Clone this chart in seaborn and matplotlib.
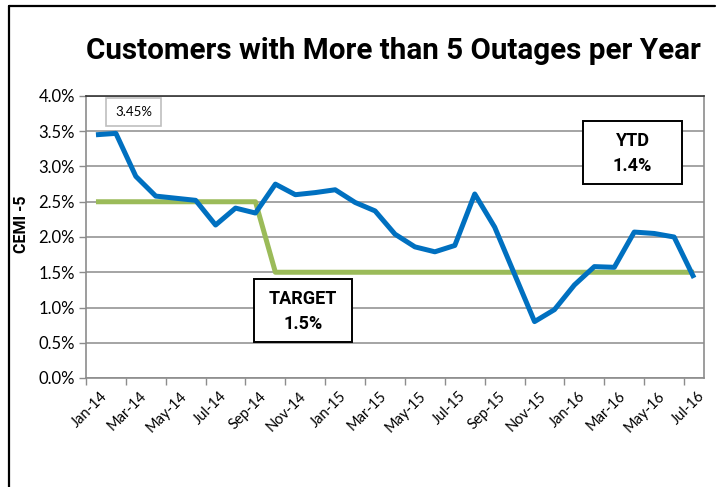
import matplotlib
matplotlib.use("Agg")
import matplotlib.pyplot as plt
import seaborn as sns
import pandas as pd
import numpy as np
from matplotlib.patches import Rectangle
from matplotlib.lines import Line2D

months = ["Jan-14", "Feb-14", "Mar-14", "Apr-14", "May-14", "Jun-14", "Jul-14", "Aug-14",
          "Sep-14", "Oct-14", "Nov-14", "Dec-14", "Jan-15", "Feb-15", "Mar-15", "Apr-15",
          "May-15", "Jun-15", "Jul-15", "Aug-15", "Sep-15", "Oct-15", "Nov-15", "Dec-15",
          "Jan-16", "Feb-16", "Mar-16", "Apr-16", "May-16", "Jun-16", "Jul-16"]
cemi5 = [3.45, 3.47, 2.86, 2.58, 2.55, 2.52, 2.17, 2.41, 2.34, 2.75, 2.60, 2.63, 2.67, 2.49,
         2.37, 2.04, 1.86, 1.79, 1.88, 2.61, 2.14, 1.47, 0.80, 0.97, 1.32, 1.58, 1.57, 2.07,
         2.05, 2.00, 1.42]
target = [2.5] * 9 + [1.5] * 22
tick_labels = months[::2]
y_ticks = [0.0, 0.5, 1.0, 1.5, 2.0, 2.5, 3.0, 3.5, 4.0]

sns.set_style("white")
plt.rcParams['font.family'] = ['Lato', 'DejaVu Sans']
for k in ["text.color", "axes.labelcolor", "xtick.color", "ytick.color"]:
    plt.rcParams[k] = "black"
BOLD = ['Roboto', 'DejaVu Sans']

df = pd.DataFrame({"idx": np.arange(len(months)), "month": months,
                   "CEMI-5": cemi5, "Target": target})

fig = plt.figure(figsize=(7.19, 4.87), dpi=100)
ax = fig.add_axes([86 / 719, 1 - 378 / 487, (704 - 86) / 719, (378 - 96) / 487])

sns.lineplot(data=df, x="idx", y="Target", ax=ax, color="#9BBB59", linewidth=3.6,
             solid_capstyle="butt", zorder=3)
sns.lineplot(data=df, x="idx", y="CEMI-5", ax=ax, color="#0070C0", linewidth=3.6,
             solid_capstyle="butt", zorder=4)

ax.set_xlim(-0.5, len(months) - 0.5)
ax.set_ylim(0, 4.0)
ax.set_yticks(y_ticks)
ax.set_yticklabels([f"{v:.1f}%" for v in y_ticks], fontsize=12)
ax.yaxis.grid(True, color="#8C8C8C", linewidth=1.1)
ax.set_axisbelow(True)

ax.set_xticks(np.arange(0, len(months), 2) - 0.5)
ax.set_xticklabels(tick_labels, rotation=45, ha="right", rotation_mode="anchor", fontsize=10.5)
ax.tick_params(axis="x", which="major", length=5, color="#8C8C8C", width=1, pad=3, direction="out")
ax.tick_params(axis="y", which="major", length=5, color="#8C8C8C", width=1, pad=3, direction="out")
ax.tick_params(bottom=True, left=True)
for lab in ax.get_xticklabels():
    lab.set_transform(lab.get_transform() + matplotlib.transforms.ScaledTranslation(10 / 72, 0, fig.dpi_scale_trans))

ax.set_xlabel("")
ax.set_ylabel("CEMI -5", fontsize=11.5, fontweight="bold", family=BOLD)
ax.yaxis.set_label_coords((29 - 86) / 618, (378 - 224) / 282)

for side in ["left", "bottom", "right"]:
    ax.spines[side].set_color("#8C8C8C")
    ax.spines[side].set_linewidth(1.2)
ax.spines["top"].set_color("#333333")
ax.spines["top"].set_linewidth(1.2)

fig.text(393 / 719, 1 - 51 / 487, "Customers with More than 5 Outages per Year",
         ha="center", va="center", fontsize=21.3, fontweight="bold", family=BOLD)

# outer chart frame (left and top only visible)
fig.add_artist(Line2D([8.5 / 719, 8.5 / 719], [0, 1 - 6 / 487], transform=fig.transFigure,
                      color="black", linewidth=1.6))
fig.add_artist(Line2D([8.5 / 719, 715 / 719], [1 - 6 / 487, 1 - 6 / 487], transform=fig.transFigure,
                      color="black", linewidth=1.6))

def box(x0, y0, x1, y1, ec, lw):
    fig.add_artist(Rectangle((x0 / 719, 1 - y1 / 487), (x1 - x0) / 719, (y1 - y0) / 487,
                             transform=fig.transFigure, facecolor="white", edgecolor=ec,
                             linewidth=lw, zorder=5))

box(106, 98, 161, 126, "#BFBFBF", 1.2)
fig.text(133.5 / 719, 1 - 112.5 / 487, f"{cemi5[0]:.2f}%", ha="center", va="center",
         fontsize=9.5, zorder=6)

box(254, 279, 352, 342, "black", 1.4)
fig.text(303 / 719, 1 - 299 / 487, "TARGET", ha="center", va="center", fontsize=13,
         fontweight="bold", family=BOLD, zorder=6)
fig.text(303 / 719, 1 - 324 / 487, "1.5%", ha="center", va="center", fontsize=13,
         fontweight="bold", family=BOLD, zorder=6)

box(583, 121, 682, 184, "black", 1.4)
fig.text(632.5 / 719, 1 - 141 / 487, "YTD", ha="center", va="center", fontsize=13,
         fontweight="bold", family=BOLD, zorder=6)
fig.text(632.5 / 719, 1 - 166 / 487, "1.4%", ha="center", va="center", fontsize=13,
         fontweight="bold", family=BOLD, zorder=6)

fig.savefig("out.png", dpi=100)
